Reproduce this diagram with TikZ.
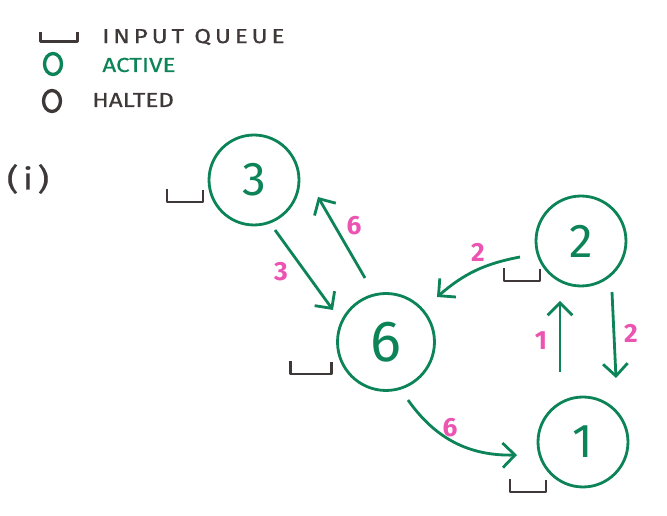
\documentclass[tikz,border=0pt]{standalone}
\usepackage{fontspec}
\setmainfont{Fira Sans}
\newfontfamily\keyfont[FakeStretch=1.2,FakeBold=0.6]{Fira Sans}
\usetikzlibrary{arrows.meta,shapes.geometric}
\definecolor{procgreen}{RGB}{12,132,88}
\definecolor{countpink}{RGB}{236,84,178}
\definecolor{haltgray}{RGB}{62,56,56}
\tikzset{
  proc/.style={circle,draw=procgreen,line width=1.6pt,minimum size=1.8cm,inner sep=0pt,text=procgreen,font=\fontsize{27}{27}\selectfont},
  msg/.style={procgreen,line width=1.6pt,-{Straight Barb[length=7pt,width=14pt,line width=1.6pt]}},
  cnt/.style={text=countpink,font=\bfseries\fontsize{15}{15}\selectfont},
  keytext/.style={anchor=west,inner sep=0pt,font=\keyfont\fontsize{11.5}{11.5}\selectfont},
  keyring/.style={ellipse,line width=1.9pt,minimum width=0.34cm,minimum height=0.42cm,inner sep=0pt},
  queue/.pic={\draw[haltgray,line width=1.6pt,line join=round] (-18,-7) -- (-18,6) -- (18,6) -- (18,-6);}
}
\begin{document}
\begin{tikzpicture}[x=0.02cm,y=-0.02cm]
\useasboundingbox (0,0) rectangle (667,516);
\pic[yscale=0.75,xscale=1.05] (qkey) at (59,37) {queue};
\node[keytext,text=haltgray] (kqueue) at (102,37) {\addfontfeature{LetterSpace=19}INPUT QUEUE};
\node[keyring,draw=procgreen] (kact) at (53,64) {};
\node[keytext,text=procgreen] (kacttext) at (102,65) {ACTIVE};
\node[keyring,draw=haltgray] (khalt) at (52,101) {};
\node[keytext,text=haltgray] (khalttext) at (92,100) {HALTED};
\node[text=haltgray,font=\keyfont\fontsize{17}{17}\selectfont] (part) at (28,179) {\addfontfeature{LetterSpace=15}(i)};
\node[proc] (n3) at (254,180) {3};
\node[proc] (n2) at (581,241) {2};
\node[proc,minimum size=1.94cm,font=\fontsize{33}{33}\selectfont] (n6) at (386,342) {6};
\node[proc] (n1) at (583,442) {1};
\pic (q3) at (185,196) {queue};
\pic (q2) at (522,275) {queue};
\pic[xscale=1.15] (q6) at (311,368) {queue};
\pic (q1) at (528,486) {queue};
\draw[msg] ([shift={(21,50)}]n3.center) -- ([shift={(-53,-32)}]n6.center);
\draw[msg] ([shift={(-21,-64)}]n6.center) -- ([shift={(64,17)}]n3.center);
\draw[msg] ([shift={(-61,16)}]n2.center) to[bend right=15] ([shift={(51,-45)}]n6.center);
\draw[msg] ([shift={(31,51)}]n2.center) -- ([shift={(33,-64)}]n1.center);
\draw[msg] ([shift={(-23,-70)}]n1.center) -- ([shift={(-21,60)}]n2.center);
\draw[msg] ([shift={(22,58)}]n6.center) to[bend right=28] ([shift={(-66,13)}]n1.center);
\node[cnt] (c36) at (281,272) {3};
\node[cnt] (c63) at (354,226) {6};
\node[cnt] (c26) at (478,252) {2};
\node[cnt] (c12) at (541,341) {1};
\node[cnt] (c21) at (631,333) {2};
\node[cnt] (c61) at (450,428) {6};
\end{tikzpicture}
\end{document}
